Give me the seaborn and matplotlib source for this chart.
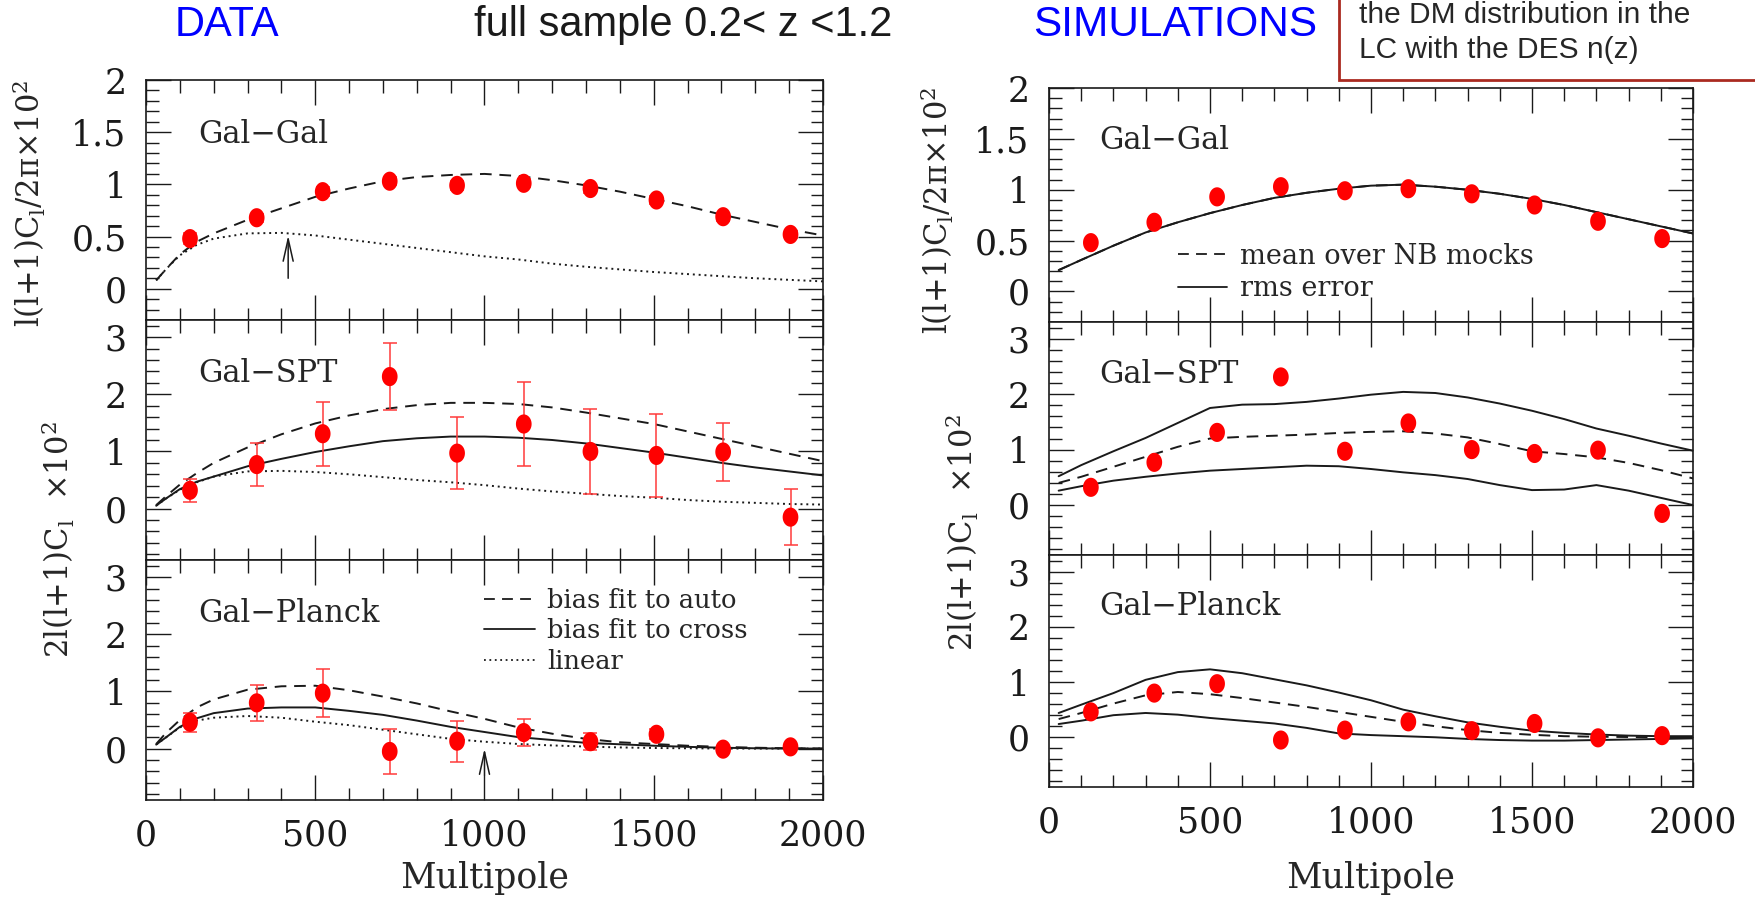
import numpy as np
import matplotlib
matplotlib.use('Agg')
import matplotlib.pyplot as plt
import seaborn as sns
from matplotlib.path import Path
from matplotlib.lines import Line2D
from matplotlib.patches import Rectangle
from matplotlib.ticker import MultipleLocator, FuncFormatter

# ---------------- data ----------------
ell_pts = [130, 327, 522, 720, 919, 1116, 1313, 1508, 1705, 1904]
gg_pts = [0.48, 0.68, 0.93, 1.03, 0.99, 1.01, 0.96, 0.85, 0.69, 0.52]
gg_err = [0.05, 0.04, 0.04, 0.04, 0.04, 0.04, 0.04, 0.04, 0.04, 0.03]
spt_pts = [0.32, 0.77, 1.31, 2.31, 0.97, 1.48, 1.00, 0.93, 0.99, -0.15]
spt_err = [0.20, 0.38, 0.56, 0.58, 0.63, 0.74, 0.75, 0.72, 0.51, 0.49]
pl_pts = [0.46, 0.80, 0.97, -0.05, 0.13, 0.28, 0.12, 0.25, -0.01, 0.03]
pl_err = [0.17, 0.32, 0.42, 0.40, 0.36, 0.24, 0.15, 0.09, 0.05, 0.04]

ell_th = [30, 60, 100, 150, 200, 300, 400, 500, 600, 700, 800, 900, 1000,
          1100, 1200, 1300, 1400, 1500, 1600, 1700, 1800, 1900, 2000]
gg_auto = [0.08, 0.19, 0.33, 0.45, 0.53, 0.66, 0.77, 0.88, 0.96, 1.03, 1.07, 1.09,
           1.10, 1.08, 1.04, 0.99, 0.93, 0.86, 0.79, 0.71, 0.64, 0.57, 0.51]
gg_lin = [0.08, 0.19, 0.32, 0.42, 0.48, 0.53, 0.535, 0.51, 0.47, 0.43, 0.39, 0.35,
          0.31, 0.28, 0.24, 0.21, 0.185, 0.16, 0.14, 0.12, 0.10, 0.085, 0.07]
spt_auto = [0.06, 0.22, 0.42, 0.62, 0.80, 1.07, 1.30, 1.49, 1.63, 1.74, 1.81, 1.85,
            1.85, 1.83, 1.77, 1.68, 1.58, 1.48, 1.35, 1.22, 1.09, 0.96, 0.83]
spt_cross = [0.05, 0.18, 0.34, 0.47, 0.56, 0.74, 0.87, 0.99, 1.09, 1.18, 1.23, 1.26,
             1.26, 1.24, 1.20, 1.14, 1.06, 0.98, 0.89, 0.80, 0.72, 0.65, 0.58]
spt_lin = [0.05, 0.18, 0.33, 0.46, 0.56, 0.65, 0.66, 0.64, 0.60, 0.55, 0.50, 0.46,
           0.41, 0.35, 0.30, 0.26, 0.22, 0.19, 0.15, 0.12, 0.10, 0.08, 0.07]
pl_auto = [0.08, 0.28, 0.50, 0.72, 0.86, 1.03, 1.09, 1.10, 1.02, 0.91, 0.79, 0.65,
           0.52, 0.37, 0.26, 0.17, 0.11, 0.08, 0.05, 0.03, 0.015, 0.005, 0.0]
pl_cross = [0.07, 0.20, 0.38, 0.53, 0.62, 0.70, 0.72, 0.72, 0.66, 0.59, 0.49, 0.38,
            0.29, 0.20, 0.15, 0.10, 0.075, 0.05, 0.03, 0.015, 0.005, 0.0, 0.0]
pl_lin = [0.07, 0.20, 0.37, 0.49, 0.54, 0.57, 0.54, 0.47, 0.41, 0.33, 0.25, 0.17,
          0.12, 0.08, 0.055, 0.035, 0.02, 0.01, 0.005, 0.0, 0.0, 0.0, 0.0]

ell_sim = [30, 100, 200, 300, 400, 500, 600, 700, 800, 900, 1000,
           1100, 1200, 1300, 1400, 1500, 1600, 1700, 1800, 1900, 2000]
sim_gg = [0.21, 0.31, 0.45, 0.58, 0.68, 0.77, 0.85, 0.92, 0.97, 1.01, 1.04,
          1.05, 1.03, 1.00, 0.96, 0.91, 0.85, 0.78, 0.71, 0.64, 0.57]
sim_spt_hi = [0.52, 0.72, 0.97, 1.21, 1.48, 1.75, 1.81, 1.82, 1.86, 1.92, 1.99,
              2.04, 2.02, 1.94, 1.83, 1.70, 1.55, 1.38, 1.25, 1.11, 0.98]
sim_spt_mean = [0.40, 0.51, 0.69, 0.87, 1.05, 1.20, 1.23, 1.25, 1.27, 1.30, 1.32,
                1.33, 1.29, 1.22, 1.10, 0.97, 0.92, 0.86, 0.76, 0.63, 0.48]
sim_spt_lo = [0.26, 0.34, 0.44, 0.51, 0.57, 0.62, 0.65, 0.68, 0.71, 0.70, 0.65,
              0.59, 0.54, 0.47, 0.36, 0.27, 0.28, 0.36, 0.26, 0.13, 0.0]
sim_pl_hi = [0.44, 0.59, 0.80, 1.04, 1.18, 1.23, 1.16, 1.05, 0.94, 0.81, 0.67,
             0.50, 0.38, 0.27, 0.19, 0.12, 0.08, 0.05, 0.03, 0.02, 0.02]
sim_pl_mean = [0.33, 0.44, 0.61, 0.76, 0.82, 0.78, 0.71, 0.63, 0.55, 0.46, 0.37,
               0.28, 0.20, 0.13, 0.08, 0.045, 0.02, 0.01, 0.005, 0.0, 0.0]
sim_pl_lo = [0.24, 0.30, 0.40, 0.44, 0.41, 0.35, 0.30, 0.25, 0.17, 0.07, 0.04,
             0.02, 0.0, -0.03, -0.05, -0.06, -0.06, -0.05, -0.04, -0.03, -0.02]

panel_names = ["Gal\u2212Gal", "Gal\u2212SPT", "Gal\u2212Planck"]
legend_data = ["bias fit to auto", "bias fit to cross", "linear"]
legend_sim = ["mean over NB mocks", "rms error"]
ylab_top = "l(l+1)C$_\\mathrm{l}$/2\u03c0\u00d710$^2$"
ylab_mid = "2l(l+1)C$_\\mathrm{l}$  \u00d710$^2$"

# ---------------- style ----------------
sns.set_theme(style="ticks")
SERIF = ["DejaVu Serif"]
SANS = ["Liberation Sans", "DejaVu Sans"]
plt.rcParams["font.family"] = SERIF
plt.rcParams["mathtext.fontset"] = "dejavuserif"

DASH = (0, (6, 4))
DOT = (0, (1, 2))
RED = "#ff0000"
ERR = "#ff3a3a"

t = np.linspace(0, 2 * np.pi, 64)
ell_marker = Path(np.column_stack([0.82 * np.cos(t), np.sin(t)]), closed=True)

fig = plt.figure(figsize=(17.56, 9.0), dpi=100)
W, H = 1756.0, 900.0


def add_ax(x0, x1, y0, y1):
    return fig.add_axes([x0 / W, 1 - y1 / H, (x1 - x0) / W, (y1 - y0) / H])


def style(ax, ylim, ymaj, ymin, show_x):
    ax.set_xlim(0, 2000)
    ax.set_ylim(*ylim)
    ax.xaxis.set_major_locator(MultipleLocator(500))
    ax.xaxis.set_minor_locator(MultipleLocator(100))
    ax.yaxis.set_major_locator(MultipleLocator(ymaj))
    ax.yaxis.set_minor_locator(MultipleLocator(ymin))
    ax.yaxis.set_major_formatter(FuncFormatter(lambda v, p: f"{v + 0:g}"))
    ax.tick_params(which="both", direction="in", top=True, right=True,
                   labelsize=25, colors="k")
    ax.tick_params(which="major", length=18, width=1.0)
    ax.tick_params(which="minor", length=9, width=1.0)
    ax.tick_params(axis="x", pad=13)
    ax.tick_params(axis="y", pad=14)
    if not show_x:
        ax.tick_params(axis="x", labelbottom=False)
    for s in ax.spines.values():
        s.set_linewidth(1.2)
        s.set_color("k")
    ax.set_facecolor("white")


def curve(ax, x, y, ls):
    sns.lineplot(x=x, y=y, ax=ax, color="k", lw=1.4, linestyle=ls,
                 estimator=None, sort=False, zorder=2)


def points(ax, y, err=None):
    if err is not None:
        ax.errorbar(ell_pts, y, yerr=err, fmt="none", ecolor=ERR,
                    elinewidth=1.1, capsize=5, capthick=1.1, zorder=3)
    sns.scatterplot(x=ell_pts, y=y, ax=ax, marker=ell_marker, s=190, color=RED,
                    edgecolor="none", linewidth=0, zorder=4, legend=False)


# ---------------- left (DATA) ----------------
L0, L1 = 146, 823
axL = [add_ax(L0, L1, 80, 320), add_ax(L0, L1, 320, 560), add_ax(L0, L1, 560, 800)]
style(axL[0], (-0.3, 2.0), 0.5, 0.1, False)
style(axL[1], (-0.9, 3.3), 1, 0.2, False)
style(axL[2], (-0.9, 3.3), 1, 0.2, True)

curve(axL[0], ell_th, gg_auto, DASH)
curve(axL[0], ell_th, gg_lin, DOT)
points(axL[0], gg_pts, gg_err)

curve(axL[1], ell_th, spt_auto, DASH)
curve(axL[1], ell_th, spt_cross, "-")
curve(axL[1], ell_th, spt_lin, DOT)
points(axL[1], spt_pts, spt_err)

curve(axL[2], ell_th, pl_auto, DASH)
curve(axL[2], ell_th, pl_cross, "-")
curve(axL[2], ell_th, pl_lin, DOT)
points(axL[2], pl_pts, pl_err)

arrow = dict(arrowstyle="->,head_length=0.8,head_width=0.18", lw=1.1,
             color="k", mutation_scale=20, shrinkA=0, shrinkB=0)
axL[0].annotate("", xy=(420, 0.51), xytext=(420, 0.10), arrowprops=arrow)
axL[2].annotate("", xy=(1000, 0.0), xytext=(1000, -0.47), arrowprops=arrow)

h = [Line2D([], [], color="k", lw=1.3, linestyle=DASH),
     Line2D([], [], color="k", lw=1.3, linestyle="-"),
     Line2D([], [], color="k", lw=1.3, linestyle=DOT)]
axL[2].legend(h, legend_data, loc="upper left", bbox_to_anchor=(0.5, 0.885),
              frameon=False, borderpad=0, borderaxespad=0, handlelength=1.95,
              handletextpad=0.5, labelspacing=0.22, prop={"size": 18.5, "family": SERIF})

# ---------------- right (SIMULATIONS) ----------------
R0, R1 = 1049, 1693
axR = [add_ax(R0, R1, 88, 322), add_ax(R0, R1, 322, 555), add_ax(R0, R1, 555, 787)]
style(axR[0], (-0.3, 2.0), 0.5, 0.1, False)
style(axR[1], (-0.9, 3.3), 1, 0.2, False)
style(axR[2], (-0.9, 3.3), 1, 0.2, True)

curve(axR[0], ell_sim, sim_gg, "-")
curve(axR[0], ell_sim, sim_gg, DASH)
points(axR[0], gg_pts)

curve(axR[1], ell_sim, sim_spt_hi, "-")
curve(axR[1], ell_sim, sim_spt_mean, DASH)
curve(axR[1], ell_sim, sim_spt_lo, "-")
points(axR[1], spt_pts)

curve(axR[2], ell_sim, sim_pl_hi, "-")
curve(axR[2], ell_sim, sim_pl_mean, DASH)
curve(axR[2], ell_sim, sim_pl_lo, "-")
points(axR[2], pl_pts)

h2 = [Line2D([], [], color="k", lw=1.3, linestyle=DASH),
      Line2D([], [], color="k", lw=1.3, linestyle="-")]
axR[0].legend(h2, legend_sim, loc="upper left", bbox_to_anchor=(0.2, 0.338),
              frameon=False, borderpad=0, borderaxespad=0, handlelength=1.8,
              handletextpad=0.5, labelspacing=0.2, prop={"size": 19.5, "family": SERIF})

# panel labels
for axes_col in (axL, axR):
    axes_col[0].text(155, 1.48, panel_names[0], fontsize=22, va="center", ha="left")
    axes_col[1].text(155, 2.36, panel_names[1], fontsize=22, va="center", ha="left")
    axes_col[2].text(155, 2.36, panel_names[2], fontsize=22, va="center", ha="left")

# axis labels
for xc, xt, yt, xm, ym in (((L0 + L1) / 2, 29, 203, 58, 540),
                           ((R0 + R1) / 2, 937, 210, 962, 533)):
    fig.text(xc / W, 1 - 878 / H, "Multipole", fontsize=25, ha="center", va="center")
    fig.text(xt / W, 1 - yt / H, ylab_top, fontsize=22, rotation=90,
             ha="center", va="center")
    fig.text(xm / W, 1 - ym / H, ylab_mid, fontsize=22, rotation=90,
             ha="center", va="center")

# titles
fig.text(227 / W, 1 - 25 / H, "DATA", color="#0000ff", fontsize=30,
         family=SANS, ha="center", va="center")
fig.text(683 / W, 1 - 25 / H, "full sample 0.2< z <1.2", color="k", fontsize=30,
         family=SANS, ha="center", va="center")
fig.text(1175 / W, 1 - 25 / H, "SIMULATIONS", color="#0000ff", fontsize=30.5,
         family=SANS, ha="center", va="center")

box = Rectangle((1339 / W, 1 - 80 / H), 0.3, 0.3, transform=fig.transFigure,
                facecolor="white", edgecolor="#aa2a20", lw=2, clip_on=False, zorder=5)
fig.add_artist(box)
fig.text(1359 / W, 1 - 15 / H, "the DM distribution in the", fontsize=21.5,
         family=SANS, ha="left", va="center", zorder=6)
fig.text(1359 / W, 1 - 50 / H, "LC with the DES n(z)", fontsize=21.5,
         family=SANS, ha="left", va="center", zorder=6)

fig.savefig("out.png", dpi=100, facecolor="white")
